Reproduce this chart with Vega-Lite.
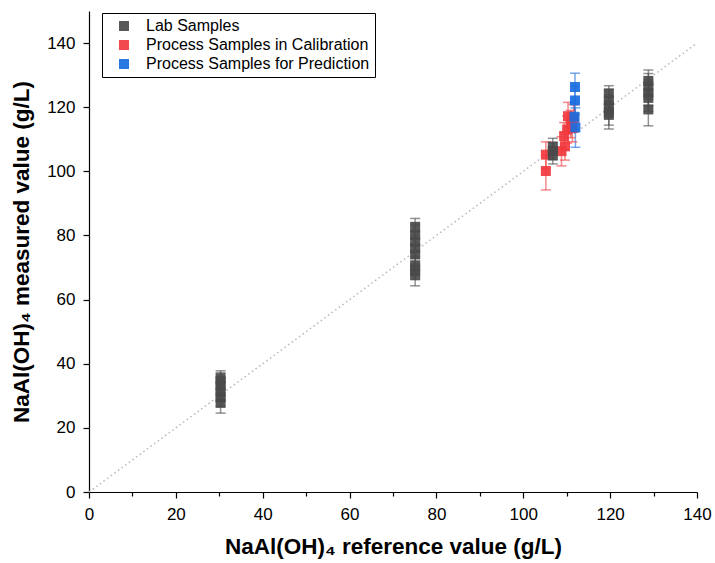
{
  "$schema": "https://vega.github.io/schema/vega-lite/v6.json",
  "width": 608,
  "height": 481,
  "autosize": {"type": "none"},
  "padding": {"left": 89, "top": 11, "right": 18, "bottom": 71},
  "background": "white",
  "config": {
    "view": {"stroke": null},
    "axis": {
      "domainColor": "black",
      "domainWidth": 1.2,
      "tickColor": "black",
      "tickWidth": 1.2,
      "grid": false,
      "labelFlush": false,
      "labelFont": "Liberation Sans",
      "labelFontSize": 17,
      "labelColor": "black",
      "titleFont": "Liberation Sans",
      "titleFontWeight": "bold",
      "titleFontSize": 22.5,
      "titleColor": "black"
    },
    "legend": {
      "labelFont": "Liberation Sans",
      "labelFontSize": 16,
      "labelColor": "black",
      "labelLimit": 0
    }
  },
  "datasets": {
    "diag": [{"x": 0, "y": 0}, {"x": 140, "y": 140}],
    "pts": [
      {"group": "Process Samples in Calibration", "ref": 105.2, "meas": 100.1, "lo": 94.2, "hi": 105.0},
      {"group": "Process Samples in Calibration", "ref": 105.2, "meas": 105.2, "lo": 100.8, "hi": 109.2},
      {"group": "Process Samples in Calibration", "ref": 108.8, "meas": 106.3, "lo": 101.7, "hi": 110.8},
      {"group": "Process Samples in Calibration", "ref": 109.6, "meas": 107.8, "lo": 103.5, "hi": 112.0},
      {"group": "Process Samples in Calibration", "ref": 109.4, "meas": 111.0, "lo": 106.8, "hi": 115.2},
      {"group": "Process Samples in Calibration", "ref": 110.1, "meas": 113.0, "lo": 108.8, "hi": 117.2},
      {"group": "Process Samples in Calibration", "ref": 110.3, "meas": 117.2, "lo": 112.8, "hi": 121.5},
      {"group": "Process Samples in Calibration", "ref": 110.9, "meas": 114.8, "lo": 110.5, "hi": 119.0},
      {"group": "Process Samples in Calibration", "ref": 111.3, "meas": 113.5, "lo": 109.2, "hi": 117.8},
      {"group": "Process Samples in Calibration", "ref": 111.6, "meas": 116.5, "lo": 112.2, "hi": 120.8},
      {"group": "Lab Samples", "ref": 30.3, "meas": 27.8, "lo": 24.6, "hi": 31.0},
      {"group": "Lab Samples", "ref": 30.3, "meas": 29.5, "lo": 26.7, "hi": 32.3},
      {"group": "Lab Samples", "ref": 30.3, "meas": 31.2, "lo": 28.4, "hi": 34.0},
      {"group": "Lab Samples", "ref": 30.3, "meas": 33.0, "lo": 30.2, "hi": 35.8},
      {"group": "Lab Samples", "ref": 30.3, "meas": 34.5, "lo": 31.7, "hi": 37.2},
      {"group": "Lab Samples", "ref": 30.3, "meas": 35.5, "lo": 32.9, "hi": 37.8},
      {"group": "Lab Samples", "ref": 75.1, "meas": 67.7, "lo": 64.3, "hi": 70.7},
      {"group": "Lab Samples", "ref": 75.1, "meas": 69.2, "lo": 66.2, "hi": 72.2},
      {"group": "Lab Samples", "ref": 75.1, "meas": 70.5, "lo": 67.5, "hi": 73.5},
      {"group": "Lab Samples", "ref": 75.1, "meas": 74.1, "lo": 71.1, "hi": 77.1},
      {"group": "Lab Samples", "ref": 75.1, "meas": 76.0, "lo": 73.0, "hi": 79.0},
      {"group": "Lab Samples", "ref": 75.1, "meas": 78.0, "lo": 75.0, "hi": 81.0},
      {"group": "Lab Samples", "ref": 75.1, "meas": 80.2, "lo": 77.2, "hi": 83.2},
      {"group": "Lab Samples", "ref": 75.1, "meas": 82.7, "lo": 80.0, "hi": 85.3},
      {"group": "Lab Samples", "ref": 106.8, "meas": 105.0, "lo": 102.3, "hi": 107.7},
      {"group": "Lab Samples", "ref": 106.8, "meas": 106.3, "lo": 103.6, "hi": 109.0},
      {"group": "Lab Samples", "ref": 106.8, "meas": 107.7, "lo": 105.0, "hi": 110.3},
      {"group": "Lab Samples", "ref": 119.7, "meas": 117.6, "lo": 113.2, "hi": 121.0},
      {"group": "Lab Samples", "ref": 119.7, "meas": 118.5, "lo": 114.4, "hi": 122.0},
      {"group": "Lab Samples", "ref": 119.7, "meas": 120.3, "lo": 116.8, "hi": 123.8},
      {"group": "Lab Samples", "ref": 119.7, "meas": 122.0, "lo": 118.5, "hi": 125.5},
      {"group": "Lab Samples", "ref": 119.7, "meas": 124.3, "lo": 121.0, "hi": 126.7},
      {"group": "Lab Samples", "ref": 128.8, "meas": 119.3, "lo": 114.2, "hi": 123.5},
      {"group": "Lab Samples", "ref": 128.8, "meas": 122.9, "lo": 118.7, "hi": 127.0},
      {"group": "Lab Samples", "ref": 128.8, "meas": 124.5, "lo": 120.5, "hi": 128.5},
      {"group": "Lab Samples", "ref": 128.8, "meas": 126.5, "lo": 122.5, "hi": 130.5},
      {"group": "Lab Samples", "ref": 128.8, "meas": 128.2, "lo": 124.8, "hi": 131.6},
      {"group": "Process Samples for Prediction", "ref": 111.9, "meas": 126.3, "lo": 121.8, "hi": 130.6},
      {"group": "Process Samples for Prediction", "ref": 111.9, "meas": 122.1, "lo": 117.8, "hi": 126.5},
      {"group": "Process Samples for Prediction", "ref": 112.0, "meas": 113.7, "lo": 107.5, "hi": 119.8},
      {"group": "Process Samples for Prediction", "ref": 111.8, "meas": 117.0, "lo": 112.8, "hi": 121.2}
    ]
  },
  "layer": [
    {
      "data": {"name": "diag"},
      "mark": {"type": "line", "color": "#b8b8b8", "strokeDash": [1.5, 3], "strokeWidth": 1.5},
      "encoding": {
        "x": {"field": "x", "type": "quantitative", "scale": {"domain": [0, 140], "nice": false}},
        "y": {"field": "y", "type": "quantitative", "scale": {"domain": [0, 150], "nice": false}}
      }
    },
    {
      "data": {"name": "pts"},
      "mark": {"type": "rule", "strokeWidth": 1.5, "opacity": 0.6},
      "encoding": {
        "x": {"field": "ref", "type": "quantitative"},
        "y": {"field": "lo", "type": "quantitative"},
        "y2": {"field": "hi"},
        "color": {
          "condition": [
            {"test": "datum.group == 'Lab Samples'", "value": "#4a4a4a"},
            {"test": "datum.group == 'Process Samples in Calibration'", "value": "#f03a3e"}
          ],
          "value": "#1a6ce0"
        }
      }
    },
    {
      "data": {"name": "pts"},
      "mark": {"type": "tick", "orient": "horizontal", "size": 10, "thickness": 1.5, "opacity": 0.6},
      "encoding": {
        "x": {"field": "ref", "type": "quantitative"},
        "y": {"field": "lo", "type": "quantitative"},
        "color": {
          "condition": [
            {"test": "datum.group == 'Lab Samples'", "value": "#4a4a4a"},
            {"test": "datum.group == 'Process Samples in Calibration'", "value": "#f03a3e"}
          ],
          "value": "#1a6ce0"
        }
      }
    },
    {
      "data": {"name": "pts"},
      "mark": {"type": "tick", "orient": "horizontal", "size": 10, "thickness": 1.5, "opacity": 0.6},
      "encoding": {
        "x": {"field": "ref", "type": "quantitative"},
        "y": {"field": "hi", "type": "quantitative"},
        "color": {
          "condition": [
            {"test": "datum.group == 'Lab Samples'", "value": "#4a4a4a"},
            {"test": "datum.group == 'Process Samples in Calibration'", "value": "#f03a3e"}
          ],
          "value": "#1a6ce0"
        }
      }
    },
    {
      "data": {"name": "pts"},
      "mark": {"type": "point", "shape": "square", "filled": true, "size": 100, "opacity": 0.92},
      "encoding": {
        "x": {
          "field": "ref", "type": "quantitative",
          "title": "NaAl(OH)₄ reference value (g/L)",
          "axis": {
            "values": [0, 10, 20, 30, 40, 50, 60, 70, 80, 90, 100, 110, 120, 130, 140],
            "labelExpr": "datum.value % 20 == 0 ? datum.label : ''",
            "tickSize": {"condition": {"test": "datum.value % 20 == 0", "value": 6}, "value": 4},
            "labelPadding": 8,
            "titlePadding": 13
          }
        },
        "y": {
          "field": "meas", "type": "quantitative",
          "title": "NaAl(OH)₄ measured value (g/L)",
          "axis": {
            "values": [0, 10, 20, 30, 40, 50, 60, 70, 80, 90, 100, 110, 120, 130, 140, 150],
            "labelExpr": "datum.value % 20 == 0 ? datum.label : ''",
            "tickSize": {"condition": {"test": "datum.value % 20 == 0", "value": 6}, "value": 4},
            "labelPadding": 8,
            "titlePadding": 13
          }
        },
        "color": {
          "field": "group", "type": "nominal",
          "scale": {
            "domain": ["Lab Samples", "Process Samples in Calibration", "Process Samples for Prediction"],
            "range": ["#4a4a4a", "#f03a3e", "#1a6ce0"]
          },
          "legend": {
            "title": null,
            "orient": "none",
            "legendX": 13,
            "legendY": 2,
            "strokeColor": "black",
            "fillColor": "white",
            "padding": 5,
            "symbolType": "square",
            "symbolSize": 100,
            "symbolOffset": 9,
            "labelOffset": 14,
            "rowPadding": 3
          }
        }
      }
    }
  ]
}
